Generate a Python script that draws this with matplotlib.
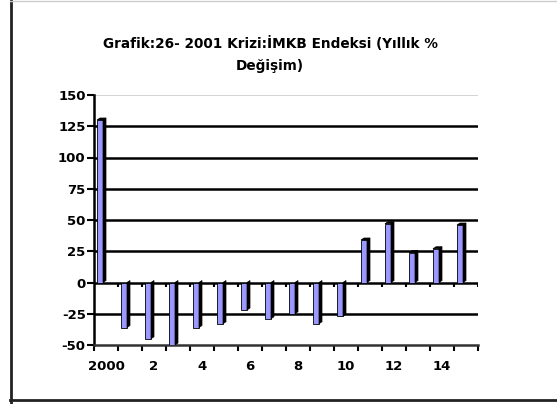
import matplotlib
matplotlib.use('Agg')
import matplotlib.pyplot as plt
import numpy as np
from matplotlib.patches import Polygon
from matplotlib.lines import Line2D

categories = ['2000', '1', '2', '3', '4', '5', '6', '7', '8', '9', '10',
              '11', '12', '13', '14', '15']
values = [130, -36, -45, -50, -36, -33, -22, -29, -25, -33, -27,
          34, 47, 24, 27, 46]
yticks = [-50, -25, 0, 25, 50, 75, 100, 125, 150]
title = 'Grafik:26- 2001 Krizi:İMKB Endeksi (Yıllık %\nDeğişim)'

plt.rcParams['font.family'] = ['DejaVu Sans']

fig = plt.figure(figsize=(5.57, 4.04), dpi=100)
ax = fig.add_axes([94/557, 1-345/404, 384/557, 250/404])
n = len(categories)
ax.set_xlim(0, n)
ax.set_ylim(yticks[0], yticks[-1])

# gridlines
for t in yticks:
    if t == yticks[-1]:
        ax.axhline(t, color='#cccccc', lw=1.2, zorder=1)
    elif t == yticks[0]:
        continue
    else:
        ax.axhline(t, color='black', lw=1.8, zorder=1)

# ticks on zero line
ax.vlines(np.arange(n + 1), -3.5, 0, color='black', lw=1.5, zorder=2)

x = np.arange(n)
dy = 1.6
dx = 0.125
ax.bar(x + 0.25, values, width=0.25, color='#9999FF', edgecolor='black',
       lw=0.6, zorder=3)
for i, v in zip(x, values):
    x1 = i + 0.375
    side = Polygon([(x1, 0), (x1 + dx, dy), (x1 + dx, v + dy), (x1, v)],
                   closed=True, facecolor='black', edgecolor='black', lw=0.5,
                   zorder=3)
    ax.add_patch(side)
    if v > 0:
        top = Polygon([(i + 0.125, v), (i + 0.125 + dx, v + dy),
                       (x1 + dx, v + dy), (x1, v)], closed=True,
                      facecolor='black', edgecolor='black', lw=0.5, zorder=3)
        ax.add_patch(top)

# axes styling
for s in ['top', 'right']:
    ax.spines[s].set_visible(False)
ax.spines['left'].set_color('black')
ax.spines['left'].set_linewidth(1.8)
ax.spines['bottom'].set_color('#333333')
ax.spines['bottom'].set_linewidth(1.8)

ax.set_yticks(yticks)
ax.set_yticklabels([str(t) for t in yticks], fontsize=9.5, fontweight='bold')
ax.tick_params(axis='y', length=5, width=1.5, direction='out', pad=1)

ax.set_xticks(np.arange(n + 1))
ax.set_xticklabels([])
ax.tick_params(axis='x', which='major', length=4, width=1.5, direction='out')
ax.set_xticks(x + 0.5, minor=True)
ax.set_xticklabels([c if i % 2 == 0 else '' for i, c in enumerate(categories)],
                   minor=True, fontsize=9.5, fontweight='bold')
ax.tick_params(axis='x', which='minor', length=0, pad=11)

fig.text(270/557, 1-36/404, title, ha='center', va='top', fontsize=9.8,
         fontweight='bold', linespacing=1.75)

# figure border
fig.add_artist(Line2D([10.5/557, 10.5/557], [0, 1], color='#222222', lw=2,
                      transform=fig.transFigure))
fig.add_artist(Line2D([10/557, 1], [1-400/404, 1-400/404], color='#222222',
                      lw=2, transform=fig.transFigure))
fig.add_artist(Line2D([10/557, 1], [1-0.5/404, 1-0.5/404], color='#cccccc',
                      lw=1, transform=fig.transFigure))

fig.savefig('out.png', dpi=100)
